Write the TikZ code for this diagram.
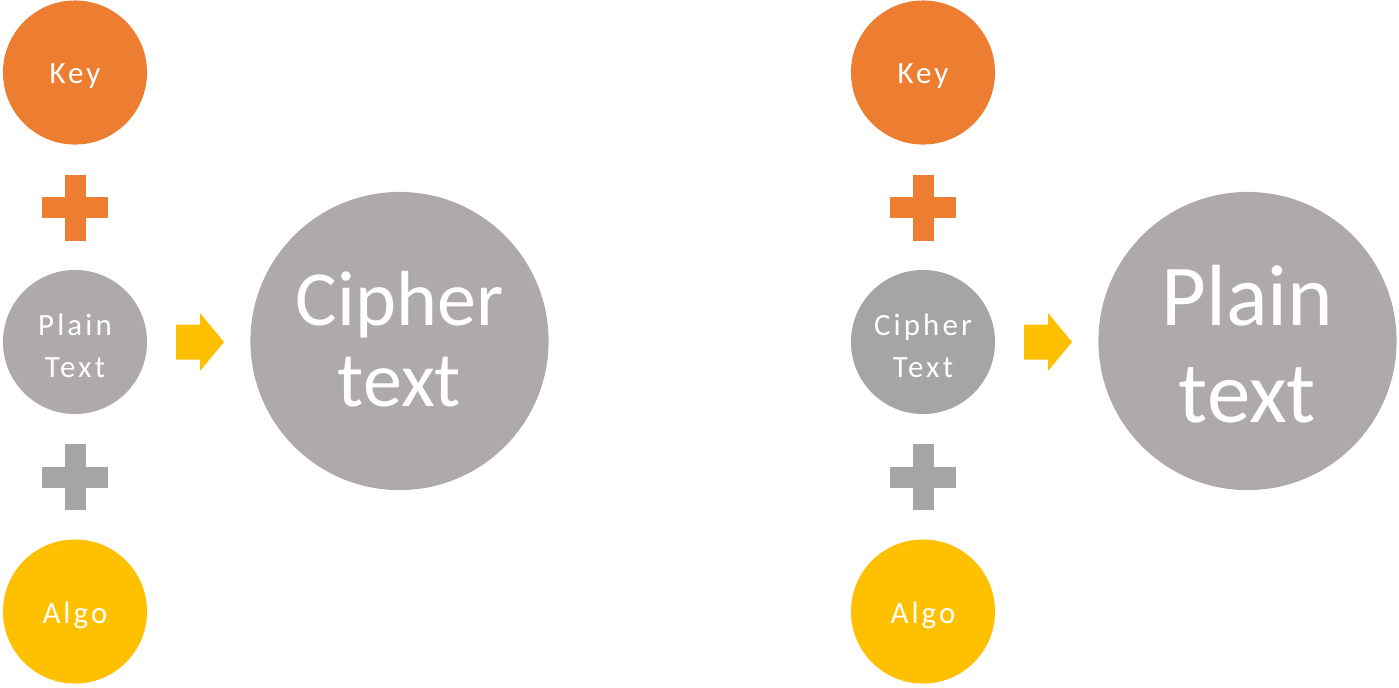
\documentclass[tikz,border=0pt]{standalone}
\usepackage{fontspec}
\setmainfont{Carlito}
\newfontfamily\spaced[LetterSpace=10]{Carlito}
\usepackage{tikz}
\usetikzlibrary{positioning}
\definecolor{keyorange}{HTML}{ED7D31}
\definecolor{textgray}{HTML}{AEAAAA}
\definecolor{darkgray}{HTML}{A5A5A5}
\definecolor{algoyellow}{HTML}{FFC000}

\begin{document}
\begin{tikzpicture}[
x=0.01cm, y=-0.01cm,
small/.style={circle,minimum size=1.44cm,inner sep=0pt},
smalltext/.style={text=white,align=center,inner sep=0pt,yshift=-1.1pt,
  font=\spaced\fontsize{8.8}{12}\selectfont},
big/.style={circle,minimum size=2.98cm,inner sep=0pt,fill=textgray},
bigtext/.style={text=white,align=center,inner sep=0pt},
arrowfill/.style={fill=algoyellow}]
    \useasboundingbox (0,0) rectangle (1399,687);

    % Left: encryption
    \node (key1) [small,fill=keyorange,label={[smalltext]center:Key}] at (75,72.5) {};
    \node (plain1) [small,fill=textgray,label={[smalltext]center:Plain\\Text}] at (75,342) {};
    \node (algo1) [small,fill=algoyellow,label={[smalltext]center:Algo}] at (75,611.5) {};
    \node (cipher1) [big,label={[bigtext,yshift=0.6pt,font=\fontsize{22.2}{23}\selectfont]center:Cipher\\text}] at (399.5,341) {};

    \coordinate (plusa1) at (75,207.5);
    \coordinate (plusb1) at (75,477);
    \coordinate (arrow1) at (176,342);

    \fill[keyorange] (plusa1) ++(-10.5,-33) rectangle ++(21,66);
    \fill[keyorange] (plusa1) ++(-33,-10.5) rectangle ++(66,21);
    \fill[darkgray] (plusb1) ++(-10.5,-33) rectangle ++(21,66);
    \fill[darkgray] (plusb1) ++(-33,-10.5) rectangle ++(66,21);
    \fill[arrowfill] (arrow1) ++(0,-17.5) -- ++(24,0) -- ++(0,-11.5) -- ++(24,29)
        -- ++(-24,29) -- ++(0,-11.5) -- ++(-24,0) -- cycle;

    % Right: decryption
    \node (key2) [small,fill=keyorange,label={[smalltext]center:Key}] at (923,72.5) {};
    \node (cipher2) [small,fill=darkgray,label={[smalltext]center:Cipher\\Text}] at (923,342) {};
    \node (algo2) [small,fill=algoyellow,label={[smalltext]center:Algo}] at (923,611.5) {};
    \node (plain2) [big,label={[bigtext,yshift=-0.8pt,font=\fontsize{24.7}{27.6}\selectfont]center:Plain\\text}] at (1247.5,341) {};

    \coordinate (plusa2) at (923,207.5);
    \coordinate (plusb2) at (923,477);
    \coordinate (arrow2) at (1024,342);

    \fill[keyorange] (plusa2) ++(-10.5,-33) rectangle ++(21,66);
    \fill[keyorange] (plusa2) ++(-33,-10.5) rectangle ++(66,21);
    \fill[darkgray] (plusb2) ++(-10.5,-33) rectangle ++(21,66);
    \fill[darkgray] (plusb2) ++(-33,-10.5) rectangle ++(66,21);
    \fill[arrowfill] (arrow2) ++(0,-17.5) -- ++(24,0) -- ++(0,-11.5) -- ++(24,29)
        -- ++(-24,29) -- ++(0,-11.5) -- ++(-24,0) -- cycle;

\end{tikzpicture}
\end{document}
